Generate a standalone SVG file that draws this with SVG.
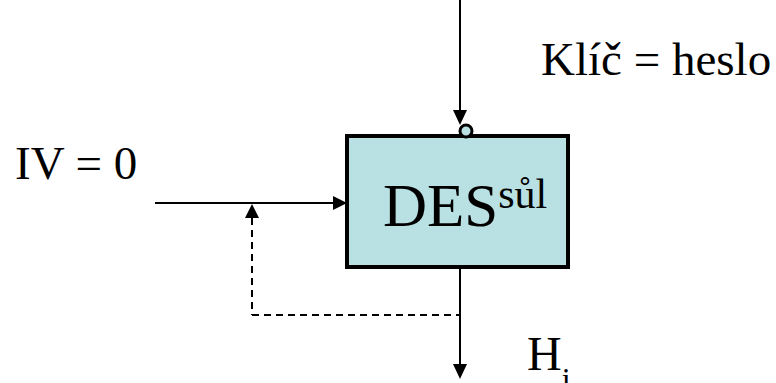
<svg xmlns="http://www.w3.org/2000/svg" width="776" height="383" viewBox="0 0 776 383">
<style>
.t{font-family:"Liberation Serif","Times New Roman",serif;fill:#000}
.ln{stroke:#000;stroke-width:2;fill:none}
.dash{stroke:#000;stroke-width:2;fill:none;stroke-dasharray:7 5}
.ah{fill:#000}
</style>
<rect width="776" height="383" fill="#fff"/>
<g id="connectors">
<line class="ln" x1="460" y1="0" x2="460" y2="112"/>
<polygon class="ah" points="453,110 467,110 460,125"/>
<line class="ln" x1="155" y1="203" x2="334" y2="203"/>
<polygon class="ah" points="333,196 333,210 347,203"/>
<line class="ln" x1="460" y1="268" x2="460" y2="366"/>
<polygon class="ah" points="453,364 467,364 460,379"/>
<line class="dash" x1="252" y1="218" x2="252" y2="315"/>
<line class="dash" x1="252" y1="315" x2="460" y2="315"/>
<polygon class="ah" points="245,218 259,218 252,204"/>
</g>
<g id="des">
<rect x="347" y="136" width="221" height="131" fill="#b9e0e3" stroke="#000" stroke-width="4"/>
<circle cx="466" cy="131" r="6" fill="#b9e0e3" stroke="#000" stroke-width="3"/>
<text class="t" x="383" y="226" font-size="61">DES<tspan font-size="42" dy="-18">sůl</tspan></text>
</g>
<g id="labels">
<text class="t" x="541" y="75" font-size="47">Klíč = heslo</text>
<text class="t" x="15" y="179" font-size="47">IV = 0</text>
<text class="t" x="527" y="370" font-size="48">H<tspan font-size="32" dy="20">i</tspan></text>
</g>
</svg>
